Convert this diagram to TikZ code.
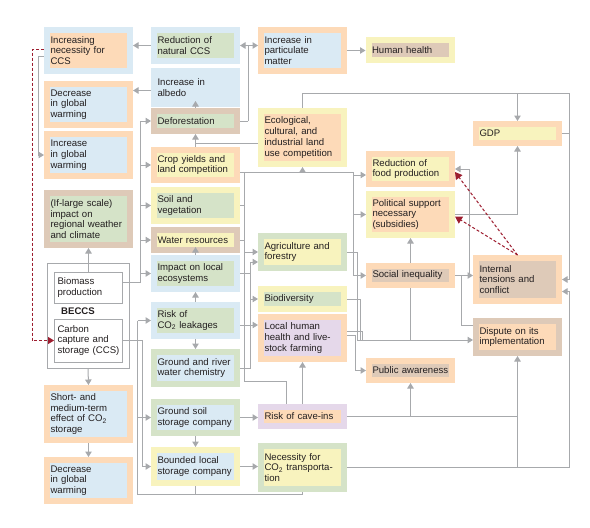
\documentclass[tikz,border=0pt]{standalone}
\usepackage{fontspec}
\setmainfont{Liberation Sans}
\usetikzlibrary{arrows.meta,backgrounds}
\definecolor{corange}{HTML}{FDDAB8}
\definecolor{cblue}{HTML}{DAEAF4}
\definecolor{cgreen}{HTML}{D5E3C8}
\definecolor{cyellow}{HTML}{F8F3BE}
\definecolor{cbrown}{HTML}{DECAB8}
\definecolor{cpurple}{HTML}{E5D8EA}
\definecolor{cgrey}{HTML}{A7A9AC}
\definecolor{cred}{HTML}{9D1D2F}
\definecolor{ink}{HTML}{231F20}
\newcommand{\boxfont}{\fontsize{9.6pt}{10.7pt}\selectfont\hyphenpenalty=10000\relax}
\tikzset{
  cbox/.style 2 args={draw=#1, fill=#2, line width=6pt, inner xsep=3.5pt, inner ysep=4pt,
    text width=76pt, align=left, minimum width=83pt, text=ink, font=\boxfont},
  wbox/.style={draw=cgrey, fill=white, line width=0.8pt, inner xsep=3pt, inner ysep=1.5pt,
    text width=62pt, align=left, minimum width=68pt, text=ink, font=\boxfont},
  wire/.style={draw=cgrey, line width=1pt},
  conn/.style={wire, -{Triangle[width=6.5pt,length=5.5pt]}},
  redconn/.style={draw=cred, line width=1pt, dash pattern=on 3pt off 2pt, -{Triangle[width=8pt,length=7pt]}}
}
\begin{document}
\begin{tikzpicture}[x=1pt,y=-1pt]
\useasboundingbox (0,0) rectangle (590,528);
% first column
\node[cbox={cblue}{corange}, minimum height=41pt] (incnec) at (88.5,50.5) {Increasing\\necessity for\\CCS};
\node[cbox={corange}{cblue}, minimum height=41pt] (warmdown) at (88.5,104.5) {Decrease\\in global\\warming};
\node[cbox={corange}{cblue}, minimum height=42pt] (warmup) at (88.5,155) {Increase\\in global\\warming};
\node[cbox={cbrown}{cgreen}, minimum height=52pt] (climate) at (88.5,219) {(If-large scale)\\impact on\\regional weather\\and climate};
\node[draw=cgrey, line width=0.8pt, inner sep=0pt, minimum width=82pt, minimum height=105pt] (beccs) at (88,315.5) {};
\node[wbox, minimum height=31pt] (biomass) at (88.5,287.5) {Biomass\\production};
\node[font=\boxfont\bfseries, text=ink, anchor=west, inner sep=0pt] (beccslabel) at (61,311) {BECCS};
\node[wbox, minimum height=43pt] (ccs) at (88.5,340.5) {Carbon\\capture and\\storage (CCS)};
\node[cbox={corange}{cblue}, minimum height=52pt] (shortterm) at (88.5,414) {Short- and\\medium-term\\effect of CO\textsubscript{2}\\storage};
\node[cbox={corange}{cblue}, minimum height=41pt] (warmdown2) at (88.5,480.5) {Decrease\\in global\\warming};
% second column
\node[cbox={cblue}{cgreen}, minimum height=31pt] (rednat) at (195.5,45.5) {Reduction of\\natural CCS};
\node[cbox={cblue}{cblue}, minimum height=33pt] (albedo) at (195.5,87.5) {Increase in\\albedo};
\node[cbox={cbrown}{cgreen}, minimum height=20pt] (defor) at (195.5,121) {Deforestation};
\node[cbox={corange}{cyellow}, minimum height=30pt] (crop) at (195.5,165) {Crop yields and\\land competition};
\node[cbox={cyellow}{cgreen}, minimum height=31pt] (soil) at (195.5,205.5) {Soil and\\vegetation};
\node[cbox={cbrown}{cyellow}, minimum height=20pt] (water) at (195.5,240) {Water resources};
\node[cbox={cblue}{cgreen}, minimum height=31pt] (impact) at (195.5,273.5) {Impact on local\\ecosystems};
\node[cbox={cblue}{cgreen}, minimum height=31pt] (leak) at (195.5,320.5) {Risk of\\CO\textsubscript{2} leakages};
\node[cbox={cgreen}{cblue}, minimum height=32pt] (chem) at (195.5,368) {Ground and river\\water chemistry};
\node[cbox={cgreen}{cblue}, minimum height=31pt] (gsoil) at (195.5,417.5) {Ground soil\\storage company};
\node[cbox={cyellow}{cblue}, minimum height=33pt] (bounded) at (195.5,466.5) {Bounded local\\storage company};
% third column
\node[cbox={corange}{cblue}, minimum height=41pt] (partic) at (302.5,50.5) {Increase in\\particulate\\matter};
\node[cbox={cyellow}{cbrown}, minimum height=20pt] (hhealth) at (410,50) {Human health};
\node[cbox={cyellow}{corange}, minimum height=53pt] (landuse) at (302.5,137.5) {Ecological,\\cultural, and\\industrial land\\use competition};
\node[cbox={cgreen}{cyellow}, minimum height=32pt] (agri) at (302.5,252) {Agriculture and\\forestry};
\node[cbox={cyellow}{cgreen}, minimum height=20pt] (biodiv) at (302.5,299) {Biodiversity};
\node[cbox={corange}{cpurple}, minimum height=42pt] (local) at (302.5,338) {Local human\\health and live-\\stock farming};
\node[cbox={cpurple}{corange}, minimum height=19pt] (cave) at (302.5,416.5) {Risk of cave-ins};
\node[cbox={cgreen}{cyellow}, minimum height=43pt] (transport) at (302.5,467.5) {Necessity for\\CO\textsubscript{2} transporta-\\tion};
% fourth and fifth column
\node[cbox={corange}{cyellow}, minimum height=30pt] (food) at (410.5,169) {Reduction of\\food production};
\node[cbox={cyellow}{corange}, minimum height=41pt] (subsid) at (410.5,214.5) {Political support\\necessary\\(subsidies)};
\node[cbox={corange}{cbrown}, minimum height=19pt] (social) at (410.5,275.5) {Social inequality};
\node[cbox={corange}{cbrown}, minimum height=19pt] (public) at (410.5,370.5) {Public awareness};
\node[cbox={corange}{cyellow}, minimum height=19pt] (gdp) at (517.5,133.5) {GDP};
\node[cbox={corange}{cbrown}, minimum height=43pt] (tension) at (517.5,279.5) {Internal\\tensions and\\conflict};
\node[cbox={cbrown}{corange}, minimum height=32pt] (dispute) at (517.5,337) {Dispute on its\\implementation};
% arrows over the box edges
\draw[conn] (defor.north) -- ([yshift=6pt]albedo.south);
\draw[conn] (impact.north) -- ([yshift=6pt]water.south);
\begin{scope}[on background layer]
% left part
\draw[conn] (rednat.west) -- (rednat.west -| incnec.east);
\draw[conn] ([yshift=-3pt]albedo.west) coordinate (a1) -- (a1 -| warmdown.east);
\draw[wire] (defor.east) -- ++(8,0) coordinate (d1);
\draw[conn] (d1) |- (rednat.east);
\draw[conn] (d1) |- (rednat.east -| partic.west);
\draw[conn] (partic.east) -- (partic.east -| hhealth.west);
\draw[conn] ([yshift=-6pt]incnec.west) -- ++(-6,0) |- (warmup.west);
\draw[redconn] ([yshift=1pt]incnec.west) -- ++(-12,0) |- (ccs.west);
\draw[conn] (crop.north) -- (defor.south);
\draw[wire] ([yshift=-5.5pt]landuse.west) -| (crop.north);
\draw[conn] (biomass.north) -- (climate.south);
\draw[wire] ([yshift=5pt]biomass.east) -| ([xshift=-11pt]defor.west) coordinate (b1);
\draw[conn] (b1) -- (defor.west);
\draw[conn] (b1 |- crop.west) -- (crop.west);
\draw[conn] (b1 |- soil.west) -- (soil.west);
\draw[conn] (b1 |- water.west) -- (water.west);
\draw[conn] (b1 |- impact.west) -- (impact.west);
\coordinate (s1) at ([xshift=15pt]ccs.east);
\draw[wire] (ccs.east) -- ++(20,0) coordinate (s2);
\draw[conn] (s2) |- (bounded.west);
\draw[conn] (s1 |- leak.west) -- (leak.west);
\draw[conn] (s1 |- gsoil.west) -- (gsoil.west);
\draw[wire] (s1 |- leak.west) |- ([yshift=-2pt]transport.south) coordinate (t1) -- (transport.south);
\draw[wire] (bounded.south) -- (bounded.south |- t1);
\draw[conn] (beccs.south) -- (shortterm.north);
\draw[conn] (shortterm.south) -- (warmdown2.north);
\draw[conn] (leak.north) -- (impact.south);
\draw[conn] (leak.south) -- (chem.north);
\draw[conn] (gsoil.south) -- (bounded.north);
\draw[conn] (gsoil.east) -- (gsoil.east -| cave.west);
\draw[conn] (bounded.east) -- (bounded.east -| transport.west);
\draw[conn] (cave.north) -- (local.south);
% middle part
\draw[wire] ([yshift=-7pt]crop.east) coordinate (c1) -| ([xshift=-13pt]social.west) coordinate (c2);
\draw[conn] (c2) -- (social.west);
\draw[conn] ([xshift=-13pt,yshift=-6pt]food.west) -- ([yshift=-6pt]food.west);
\draw[conn] ([xshift=-13pt]subsid.west) -- (subsid.west);
\draw[conn] ([yshift=-5pt]landuse.south) -- (landuse.south);
\draw[conn] (c1) -- ++(4,0) |- (agri.west);
\draw[wire] (soil.east) -- ++(4,0);
\draw[wire] (water.east) -- ++(4,0);
\draw[wire] ([xshift=-16pt]cave.north) -- ++(0,-23) -| ([xshift=-14pt]agri.west);
\draw[wire] (impact.east) -- ++(10,0) coordinate (i1);
\draw[conn] (i1) |- ([yshift=-10pt]agri.west);
\draw[conn] (i1) |- (biodiv.west);
\draw[wire] (chem.east) -| (i1);
\draw[conn] ([yshift=-4.5pt]leak.east) coordinate (r1) -- (r1 -| local.west);
% right part
\draw[conn] (agri.east) -- ++(10,0) |- ([yshift=-3pt]dispute.west) coordinate (dl);
\draw[wire] (biodiv.east) -- ++(13,0) |- ([xshift=-20pt]dl);
\draw[wire] ([yshift=7pt]local.east) -- ++(15,0) |- ([xshift=-20pt]dl);
\draw[conn] ([yshift=3pt]local.east) -- ++(8,0) |- (public.west);
\draw[conn] (social.south |- dl) -- (subsid.south);
\draw[conn] (social.east) -- (social.east -| tension.west);
\draw[conn] ([xshift=14pt]social.east) |- (food.east);
\draw[wire] ([xshift=6pt]social.east) |- ([yshift=12pt]dispute.west);
\coordinate (rt) at (569,93);
\draw[conn] (landuse.north) |- (rt) |- (tension.east);
\draw[conn] (landuse.north |- rt) -| (gdp.north);
\draw[wire] (gdp.east) -- (gdp.east -| rt);
\draw[conn] (subsid.east) -| (gdp.south);
\draw[conn] (cave.east) -| (dispute.south);
\draw[conn] (public.south |- cave.east) -- (public.south);
\draw[conn] (transport.east) -| ([xshift=7pt,yshift=-12pt]tension.east) -- ([yshift=-12pt]tension.east);
\draw[wire] (dispute.south |- transport.east) -- (dispute.south |- cave.east);
\end{scope}
\draw[redconn] (tension.north) -- ([yshift=-3pt]food.east);
\draw[redconn] (tension.north) -- ([yshift=-2pt]subsid.east);
\end{tikzpicture}
\end{document}
